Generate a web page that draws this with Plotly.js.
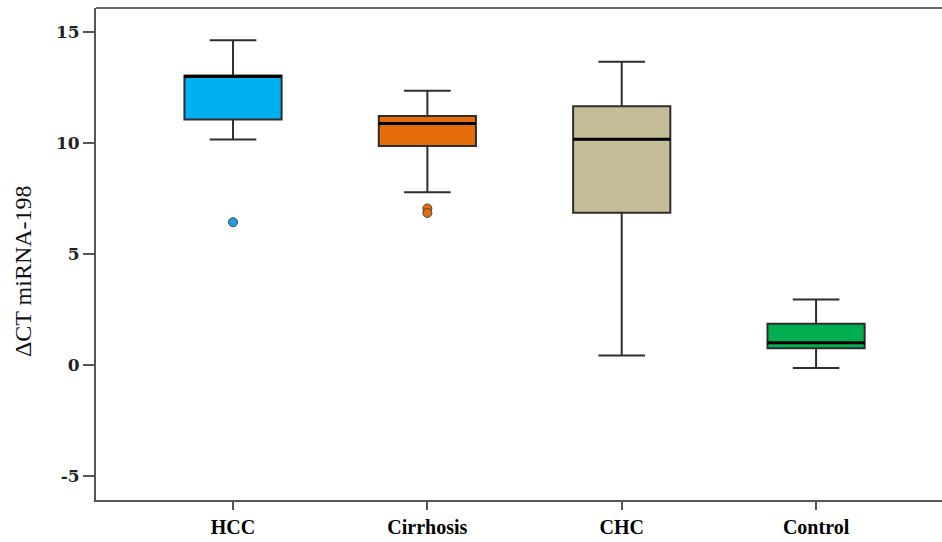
<!DOCTYPE html>
<html>
<head>
<meta charset="utf-8">
<script src="https://cdn.plot.ly/plotly-3.0.1.min.js"></script>
<style>html,body{margin:0;padding:0;background:#fff;overflow:hidden;width:942px;height:542px;}#chart{width:956px;height:542px;}</style>
</head>
<body>
<div id="chart"></div>
<script>
var categories = ["HCC", "Cirrhosis", "CHC", "Control"];
var lowerWhisker = [10.16, 7.78, 0.43, -0.13];
var q1Values = [11.06, 9.86, 6.86, 0.76];
var medianValues = [13.0, 10.88, 10.17, 1.0];
var q3Values = [13.04, 11.22, 11.66, 1.86];
var upperWhisker = [14.63, 12.35, 13.66, 2.95];
var boxColors = ["#00B0F0", "#E46C0A", "#C4BD97", "#00B050"];
var outlierGroups = ["HCC", "Cirrhosis", "Cirrhosis"];
var outlierValues = [6.43, 7.05, 6.85];
var outlierColors = ["#1BA1E2", "#E46C0A", "#E46C0A"];
var yTickValues = [-5, 0, 5, 10, 15];
var yTickText = ["-5", "0", "5", "10", "15"];

var boxWidth = 0.5;

var traces = categories.map(function (c, i) {
  return {
    type: "box",
    x: [c],
    q1: [q1Values[i]],
    median: [medianValues[i]],
    q3: [q3Values[i]],
    lowerfence: [lowerWhisker[i]],
    upperfence: [upperWhisker[i]],
    fillcolor: boxColors[i],
    line: { color: "#2e2e2e", width: 2 },
    width: boxWidth,
    whiskerwidth: 0.48,
    boxpoints: false,
    hoverinfo: "skip",
    showlegend: false
  };
});

traces.push({
  type: "scatter",
  mode: "markers",
  x: outlierGroups,
  y: outlierValues,
  marker: { color: outlierColors, size: 9, line: { color: "#444", width: 1 } },
  showlegend: false,
  hoverinfo: "skip"
});

var shapes = medianValues.map(function (m, i) {
  return {
    type: "line", xref: "x", yref: "y",
    x0: i - boxWidth / 2, x1: i + boxWidth / 2, y0: m, y1: m,
    line: { color: "#000000", width: 3 }
  };
});
shapes.push({
  type: "line", xref: "paper", yref: "paper",
  x0: 0, x1: 1, y0: 1, y1: 1,
  line: { color: "#666666", width: 2 }
});

var layout = {
  width: 956,
  height: 542,
  margin: { l: 96, r: 0, t: 8, b: 42, pad: 0 },
  paper_bgcolor: "#ffffff",
  plot_bgcolor: "#ffffff",
  showlegend: false,
  shapes: shapes,
  xaxis: {
    type: "category",
    categoryorder: "array",
    categoryarray: categories,
    range: [-0.705, 3.72],
    showline: true,
    linecolor: "#555555",
    linewidth: 2,
    mirror: false,
    ticks: "outside",
    ticklen: 8,
    tickwidth: 2,
    tickcolor: "#555555",
    showgrid: false,
    zeroline: false,
    tickfont: { family: "Liberation Serif, Times New Roman, serif", size: 20, color: "#000000", weight: "bold" }
  },
  yaxis: {
    range: [-6.08, 16.08],
    tickvals: yTickValues,
    ticktext: yTickText,
    showline: true,
    mirror: false,
    linecolor: "#555555",
    linewidth: 2,
    ticks: "outside",
    ticklen: 11,
    tickwidth: 2,
    tickcolor: "#555555",
    showgrid: false,
    zeroline: false,
    tickfont: { family: "DejaVu Serif, Liberation Serif, serif", size: 17, color: "#222222", weight: "bold" }
  },
  annotations: [{
    text: "\u0394CT miRNA-198",
    xref: "paper", yref: "paper",
    x: -0.085, y: 0.465,
    xanchor: "center", yanchor: "middle",
    textangle: -90,
    showarrow: false,
    font: { family: "Liberation Serif, Times New Roman, serif", size: 24, color: "#111111" }
  }]
};

Plotly.newPlot("chart", traces, layout, { displayModeBar: false, staticPlot: true });
</script>
</body>
</html>
